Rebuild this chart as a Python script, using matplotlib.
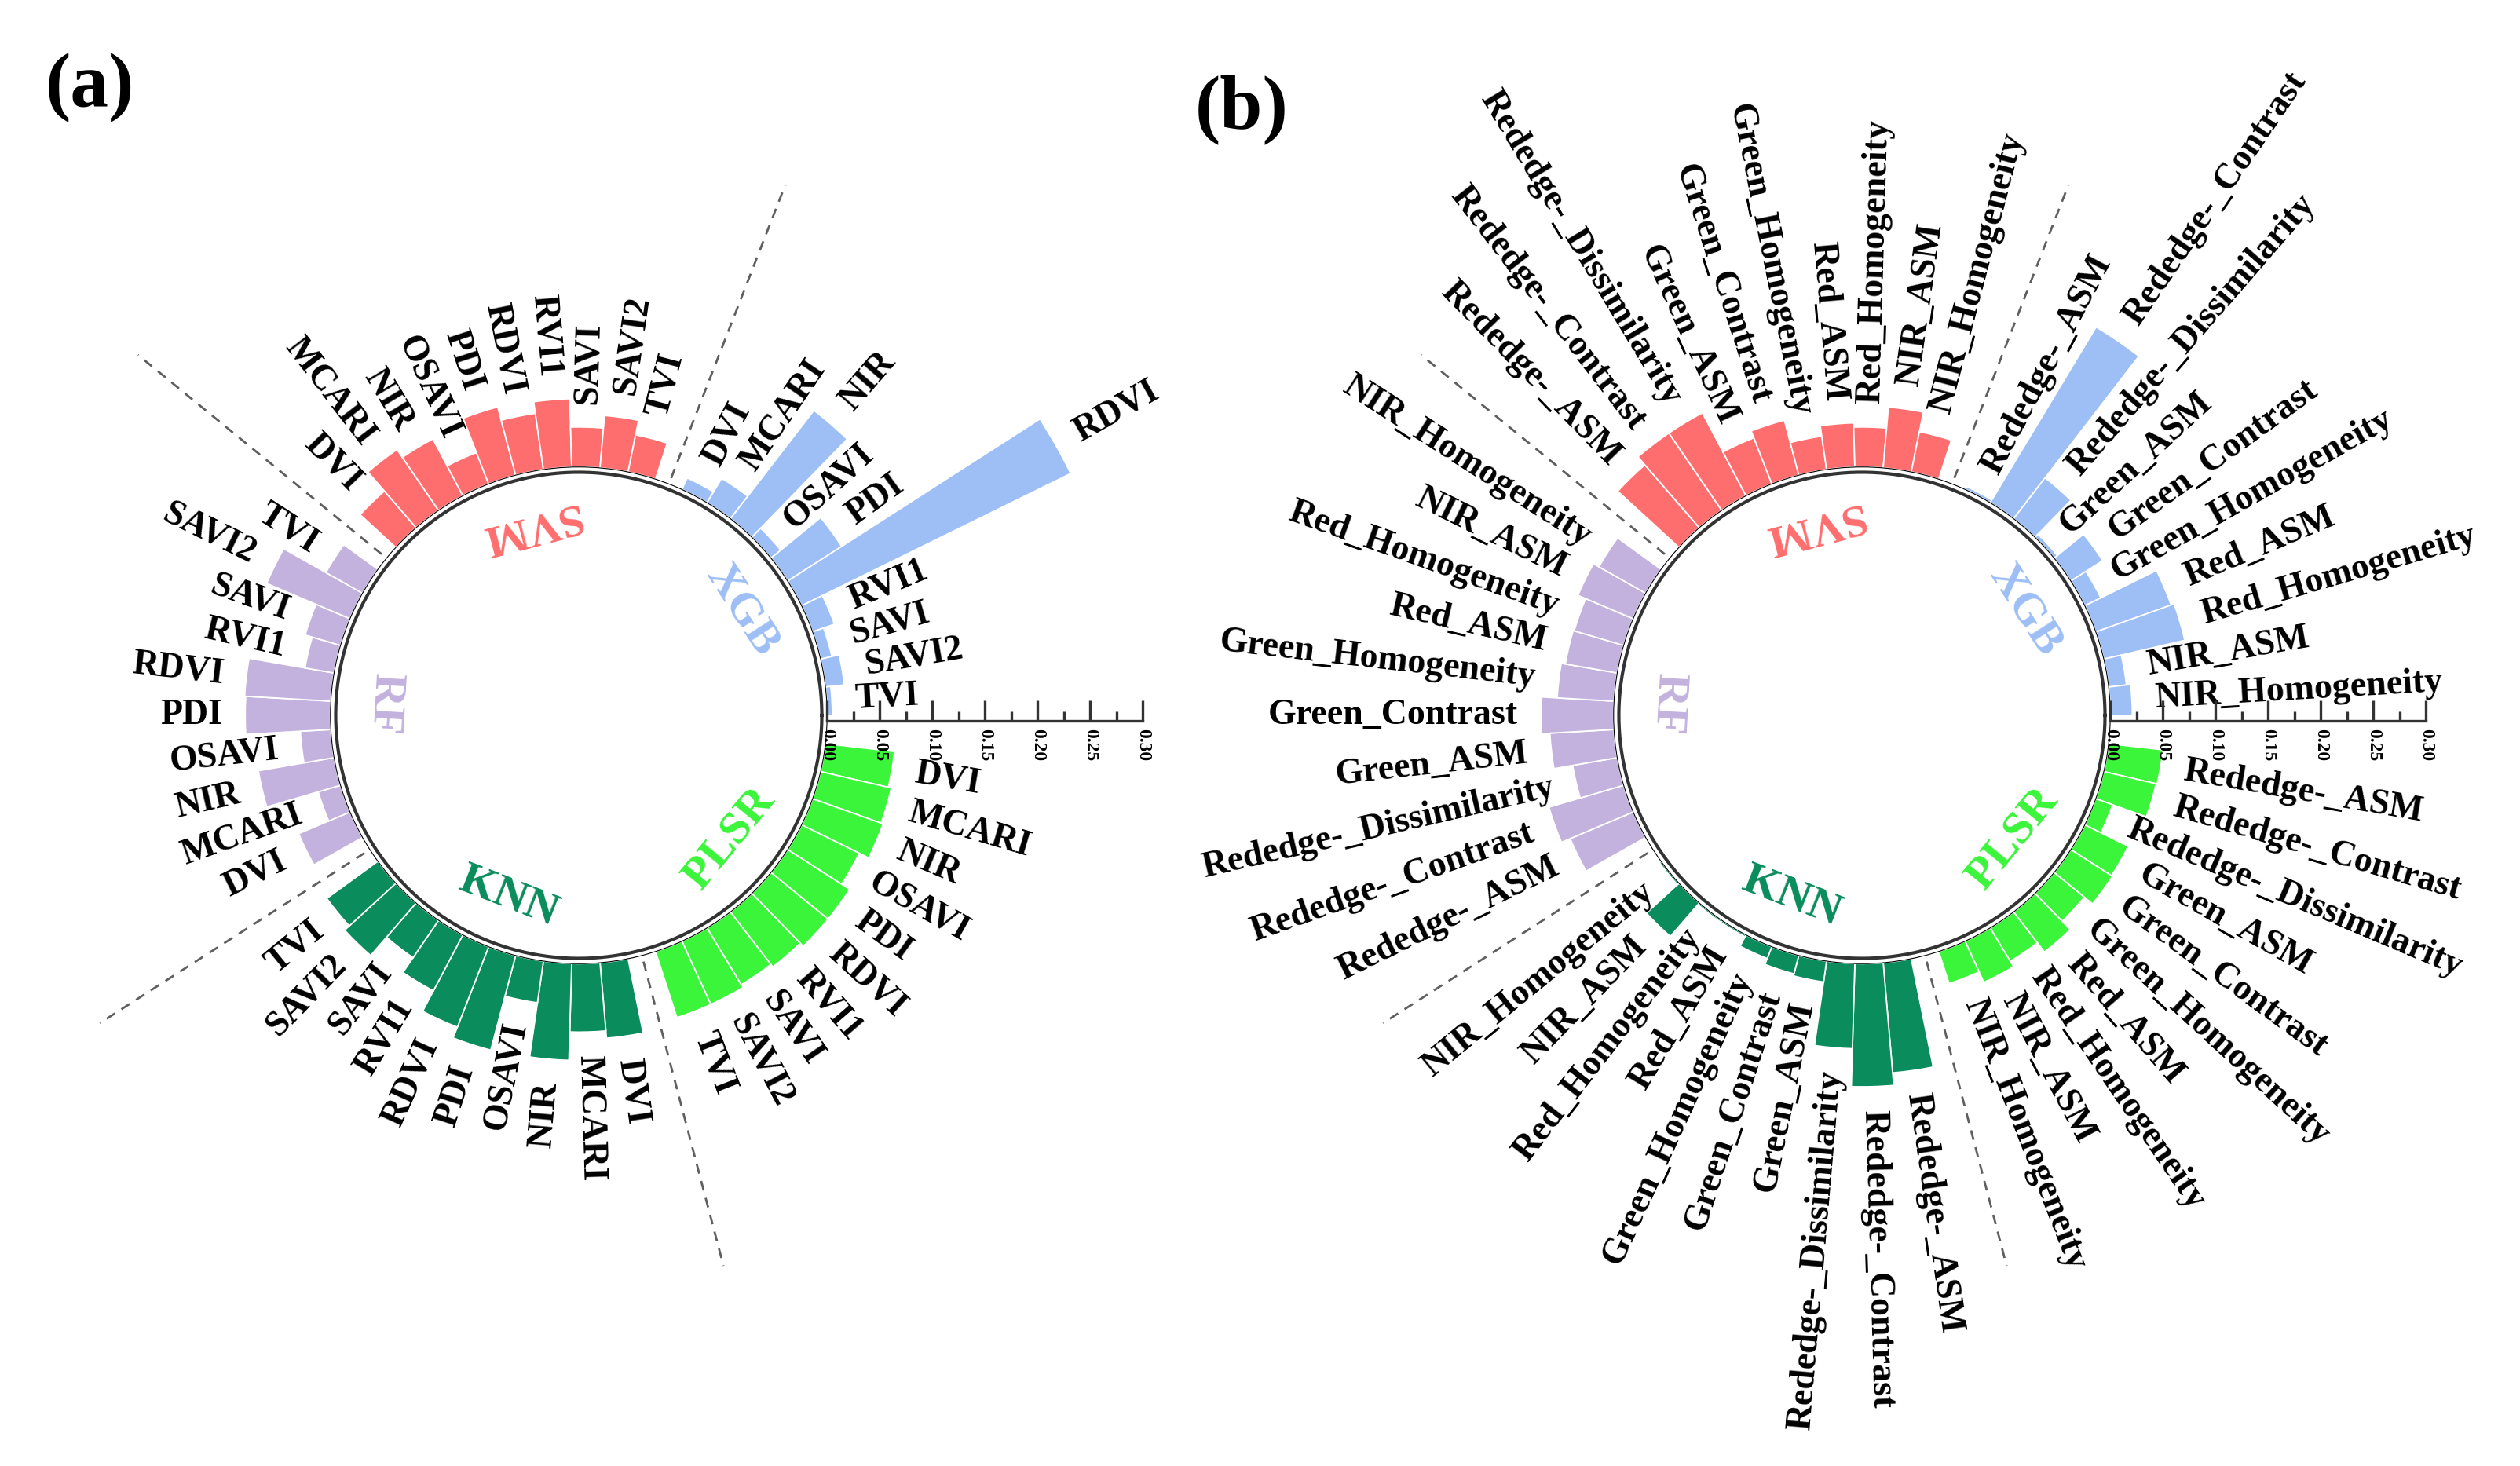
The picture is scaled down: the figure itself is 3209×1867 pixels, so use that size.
"""
Circular bar charts of feature importance for five models.
(a) vegetation indices, (b) texture features.
Run: python plot.py  -> out.png
"""

import matplotlib
matplotlib.use("Agg")
import matplotlib.pyplot as plt
import numpy as np
from matplotlib.transforms import offset_copy

plt.rcParams["font.family"] = ["Liberation Serif", "DejaVu Serif"]

# --------- Data ---------
# models in clockwise order, starting just below the radial scale
MODELS = ["PLSR", "KNN", "RF", "SVM", "XGB"]
MODEL_COLORS = ["#3AF53A", "#0A8C5C", "#C4B2DE", "#FF6E6E", "#9DBFF5"]

VI_NAMES = ["DVI", "MCARI", "NIR", "OSAVI", "PDI", "RDVI", "RVI1", "SAVI", "SAVI2", "TVI"]
TEX_NAMES = ["Rededge-_ASM", "Rededge-_Contrast", "Rededge-_Dissimilarity", "Green_ASM",
             "Green_Contrast", "Green_Homogeneity", "Red_ASM", "Red_Homogeneity",
             "NIR_ASM", "NIR_Homogeneity"]

# (a) vegetation indices
VI_PLSR = [0.066, 0.069, 0.071, 0.061, 0.070, 0.070, 0.066, 0.063, 0.066, 0.066]
VI_KNN = [0.072, 0.065, 0.092, 0.040, 0.093, 0.082, 0.060, 0.043, 0.066, 0.060]
VI_RF = [0.053, 0.022, 0.073, 0.029, 0.081, 0.082, 0.028, 0.035, 0.086, 0.040]
VI_SVM = [0.046, 0.070, 0.061, 0.032, 0.067, 0.054, 0.065, 0.038, 0.050, 0.036]
VI_XGB = [0.012, 0.027, 0.130, 0.012, 0.061, 0.285, 0.022, 0.011, 0.018, 0.005]

# (b) texture features
TEX_PLSR = [0.052, 0.051, 0.017, 0.046, 0.047, 0.037, 0.048, 0.037, 0.043, 0.032]
TEX_KNN = [0.105, 0.117, 0.081, 0.020, 0.018, 0.012, 0.002, 0.002, 0.042, 0.002]
TEX_RF = [0.065, 0.074, 0.043, 0.061, 0.069, 0.054, 0.050, 0.049, 0.057, 0.051]
TEX_SVM = [0.079, 0.089, 0.089, 0.047, 0.054, 0.032, 0.042, 0.038, 0.058, 0.039]
TEX_XGB = [0.003, 0.195, 0.049, 0.004, 0.036, 0.017, 0.076, 0.079, 0.017, 0.021]

SCALE_TICKS = [0.00, 0.05, 0.10, 0.15, 0.20, 0.25, 0.30]
SCALE_LABELS = ["0.00", "0.05", "0.10", "0.15", "0.20", "0.25", "0.30"]
SCALE_MINOR = [0.025, 0.075, 0.125, 0.175, 0.225, 0.275]

# --------- Layout ---------
FIG_W, FIG_H = 3209, 1867
DPI = 100
PX_PER_UNIT = 1340          # radial pixels per unit of importance
HOLE = 0.236                # inner hole radius in data units
RMAX = 0.31
N_SLOTS = 55                # 50 bars + 5 empty slots
LABEL_PAD = 0.022
GROUP_R = -0.051
LINE_COLOR = "#333333"
CENTERS = [(737, 911), (2371, 911)]


def make_axes(fig, cx, cy):
    half = (RMAX + HOLE) * PX_PER_UNIT
    rect = [(cx - half) / FIG_W, (FIG_H - cy - half) / FIG_H, 2 * half / FIG_W, 2 * half / FIG_H]
    ax = fig.add_axes(rect, projection="polar")
    ax.set_theta_zero_location("E")
    ax.set_theta_direction(-1)
    ax.set_rorigin(-HOLE)
    ax.set_ylim(0, RMAX)
    ax.grid(False)
    ax.set_xticks([])
    ax.set_yticks([])
    for spine in ax.spines.values():
        spine.set_visible(False)
    ax.patch.set_visible(False)
    return ax


def label_style(theta):
    phi = (-np.degrees(theta)) % 360
    if 90 < phi < 270:
        return phi - 180, "right"
    return phi, "left"


def group_rotation(theta):
    rot = (-np.degrees(theta) + 90 + 180) % 360 - 180
    if 90 < rot <= 180:
        rot -= 180
    return rot


def draw_panel(ax, names, series):
    width = 2 * np.pi / N_SLOTS
    n = len(names)
    for g, (model, color, values) in enumerate(zip(MODELS, MODEL_COLORS, series)):
        first = 1 + g * (n + 1)
        theta = (first + np.arange(n) + 0.5) * width
        ax.bar(theta, values, width=width, bottom=0.0, color=color,
               edgecolor="white", linewidth=1.3, zorder=2)
        for th, v, name in zip(theta, values, names):
            rot, ha = label_style(th)
            ax.text(th, v + LABEL_PAD, name, rotation=rot, ha=ha, va="center",
                    rotation_mode="anchor", fontsize=33, fontweight="bold", zorder=4)

        th_g = (first + n / 2) * width
        ax.text(th_g, GROUP_R, model, color=color, fontsize=42, fontweight="bold",
                rotation=group_rotation(th_g), ha="center", va="center",
                rotation_mode="anchor", zorder=4)

        if g < len(MODELS) - 1:
            th_sep = (first + n + 0.5) * width
            ax.plot([th_sep, th_sep], [0.006, 0.305], ls=(0, (4.5, 3.5)),
                    color="#5f5f5f", lw=2.0, zorder=1)

    # inner circle sits in the hole, so it must not be clipped by the annulus
    circle = np.linspace(0, 2 * np.pi, 400)
    ax.plot(circle, np.full_like(circle, -0.005), color=LINE_COLOR, lw=3.0,
            zorder=3, clip_on=False)


def draw_scale(fig, ax):
    trans = offset_copy(ax.transData, fig=fig, y=-7, units="dots")
    ax.plot([0, 0], [0, SCALE_TICKS[-1]], color=LINE_COLOR, lw=2.4,
            transform=trans, clip_on=False, zorder=5)
    ax.plot(np.zeros(len(SCALE_TICKS)), SCALE_TICKS, ls="none", marker=2, ms=19,
            mew=2.4, color=LINE_COLOR, transform=trans, clip_on=False, zorder=5)
    ax.plot(np.zeros(len(SCALE_MINOR)), SCALE_MINOR, ls="none", marker=2, ms=9,
            mew=2.4, color=LINE_COLOR, transform=trans, clip_on=False, zorder=5)
    label_trans = offset_copy(ax.transData, fig=fig, y=-17, units="dots")
    for v, lab in zip(SCALE_TICKS, SCALE_LABELS):
        ax.text(0, v, lab, transform=label_trans, rotation=-90, ha="center",
                va="top", fontsize=17, fontweight="bold", zorder=5)


def main():
    fig = plt.figure(figsize=(FIG_W / DPI, FIG_H / DPI), dpi=DPI)

    panels = [
        (VI_NAMES, [VI_PLSR, VI_KNN, VI_RF, VI_SVM, VI_XGB]),
        (TEX_NAMES, [TEX_PLSR, TEX_KNN, TEX_RF, TEX_SVM, TEX_XGB]),
    ]
    for (cx, cy), (names, series) in zip(CENTERS, panels):
        ax = make_axes(fig, cx, cy)
        draw_panel(ax, names, series)
        draw_scale(fig, ax)

    fig.text(58 / FIG_W, 1 - 112 / FIG_H, "(a)", fontsize=70, fontweight="bold", va="center")
    fig.text(1522 / FIG_W, 1 - 140 / FIG_H, "(b)", fontsize=70, fontweight="bold", va="center")

    fig.savefig("out.png", dpi=DPI, facecolor="white")
    plt.close(fig)


if __name__ == "__main__":
    main()
